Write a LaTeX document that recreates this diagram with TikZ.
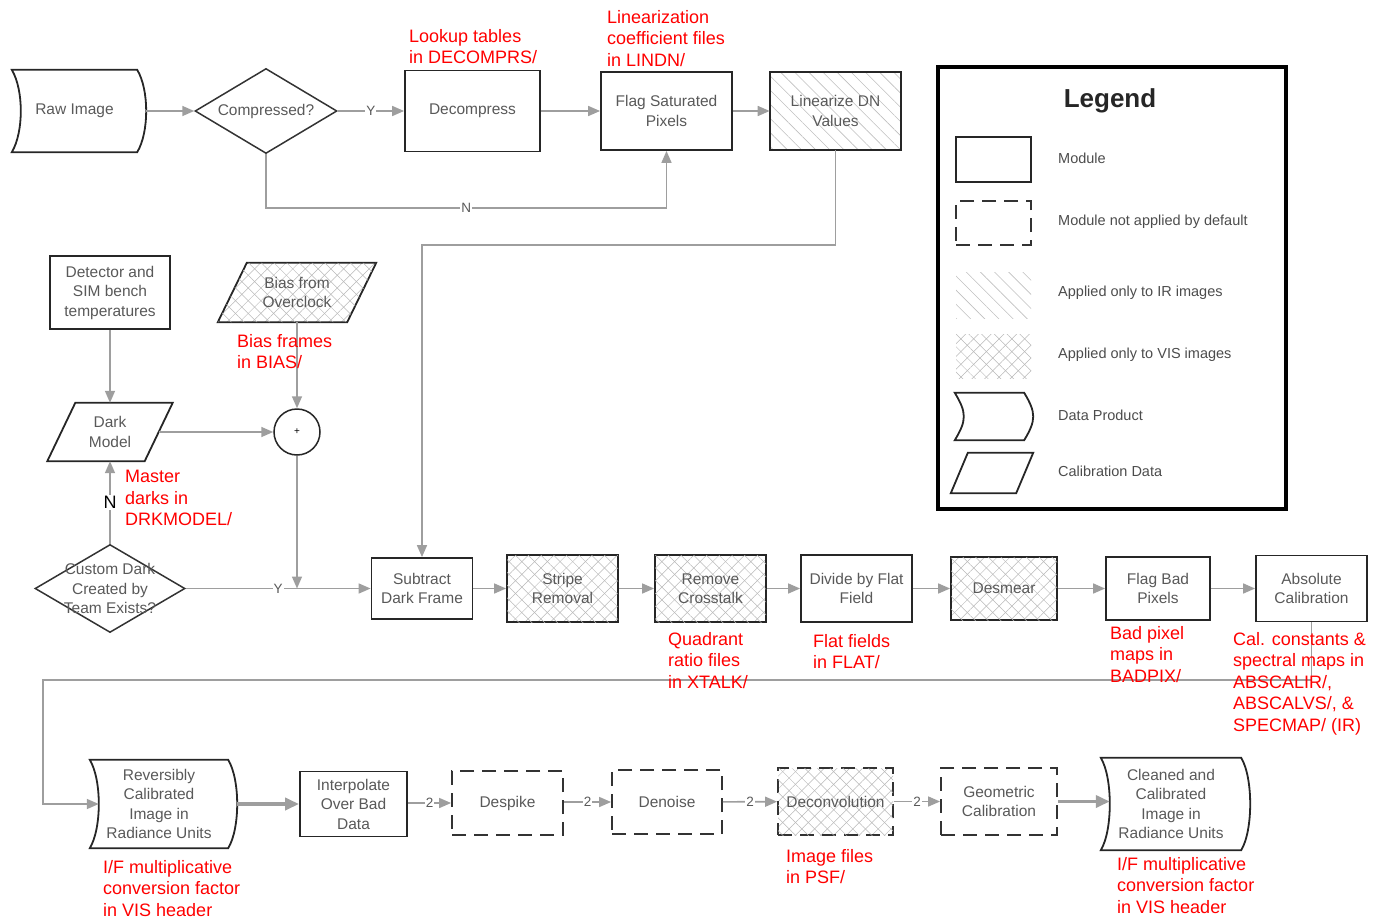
\documentclass[tikz,border=0pt]{standalone}
\usepackage{fontspec}
\setmainfont{Liberation Sans}
\usetikzlibrary{shapes.geometric,arrows.meta,patterns.meta,backgrounds,positioning}

\newcommand{\boxtextfont}{\fontsize{15.5}{19.5}\selectfont}
\newcommand{\notetextfont}{\fontsize{18}{21.5}\selectfont}
\newcommand{\legendtextfont}{\fontsize{14.5}{17}\selectfont}
\newcommand{\edgetextfont}{\fontsize{13.5}{15}\selectfont}

% outlines of data products and calibration data
\newcommand{\prodoutline}[1]{%
  \begin{pgfonlayer}{background}
  \draw[prodline] (#1.north west) .. controls +(12,20) and +(12,-20) .. (#1.south west)
    -- (#1.south east) .. controls +(12,-20) and +(12,20) .. (#1.north east) -- cycle;
  \end{pgfonlayer}}
\newcommand{\caloutline}[3][]{%
  \begin{pgfonlayer}{background}
  \draw[calline,#1] ([xshift=#2]#3.north west) -- ([xshift=#2]#3.north east)
    -- ([xshift=-#2]#3.south east) -- ([xshift=-#2]#3.south west) -- cycle;
  \end{pgfonlayer}}

\begin{document}
\begin{tikzpicture}[x=1pt,y=-1pt,
  module/.style={draw=black!85, line width=1.8pt, fill=white, text=black!65, font=\boxtextfont, align=center, inner sep=1pt},
  skipped/.style={module, draw=black!80, dash pattern=on 14pt off 8pt},
  irhatch/.style={pattern={Lines[angle=-45,distance=10pt,line width=.6pt]}, pattern color=black!25},
  vishatch/.style={pattern={Lines[angle=45,distance=9pt,line width=.5pt]}, pattern color=black!28,
    postaction={pattern={Lines[angle=-45,distance=9pt,line width=.5pt]}, pattern color=black!28}},
  prodtext/.style={text=black!65, font=\boxtextfont, align=center, inner sep=0pt},
  prodline/.style={draw=black!85, line width=1.8pt},
  calline/.style={draw=black!85, line width=1.8pt},
  decision/.style={diamond, draw=black!80, line width=1.5pt, text=black!65, font=\boxtextfont, align=center, inner sep=0pt, aspect=1.7},
  link/.style={draw=black!38, line width=1.6pt, -{Triangle[length=12pt,width=10pt]}},
  boldlink/.style={link, line width=3.5pt, -{Triangle[length=14pt,width=12pt]}},
  elab/.style={fill=white, inner sep=1pt, text=black!65, font=\edgetextfont},
  note/.style={text=red, font=\notetextfont, align=left, anchor=north west, inner sep=0pt},
  legtext/.style={text=black!70, font=\legendtextfont, anchor=west, inner sep=0pt}
]
\useasboundingbox (0,0) rectangle (1385,918);

% Top row
\node[prodtext, minimum width=125pt, minimum height=82pt] (raw) at (74.5,111) {Raw Image};
\prodoutline{raw}
\node[decision, minimum width=142pt, minimum height=85pt] (comp) at (266,111) {Compressed?};
\node[module, minimum width=135pt, minimum height=81pt] (decomp) at (472.5,111) {Decompress};
\node[module, minimum width=131pt, minimum height=78pt] (flagsat) at (666.5,111) {Flag Saturated\\Pixels};
\node[module, irhatch, minimum width=131pt, minimum height=78pt] (lindn) at (835.5,111) {Linearize DN\\Values};

% Dark and bias inputs
\node[module, minimum width=120pt, minimum height=73pt] (temps) at (110,292.5) {Detector and\\SIM bench\\temperatures};
\node[prodtext, minimum width=129pt, minimum height=59pt] (bias) at (297,292.5) {Bias from\\Overclock};
\caloutline[vishatch]{14.5pt}{bias}
\node[prodtext, minimum width=97pt, minimum height=58pt] (dark) at (110,432) {Dark\\Model};
\caloutline{14pt}{dark}
\node[circle, draw=black!85, line width=1.5pt, fill=white, minimum size=46pt, inner sep=0pt, font=\fontsize{10}{10}\selectfont] (sum) at (297,432) {+};
\node[decision, minimum width=150pt, minimum height=88pt,
  label={[prodtext]center:Custom Dark\\Created by\\Team Exists?}] (custom) at (110,588.5) {};

% Middle row
\node[module, minimum width=101pt, minimum height=61pt] (subtract) at (422,588.5) {Subtract\\Dark Frame};
\node[module, vishatch, minimum width=111pt, minimum height=67pt] (stripe) at (562.5,588.5) {Stripe\\Removal};
\node[module, vishatch, minimum width=111pt, minimum height=67pt] (xtalk) at (710.5,588.5) {Remove\\Crosstalk};
\node[module, minimum width=111pt, minimum height=67pt] (flat) at (856.5,588.5) {Divide by Flat\\Field};
\node[module, vishatch, minimum width=106pt, minimum height=63pt] (desmear) at (1004,588.5) {Desmear};
\node[module, minimum width=104pt, minimum height=63pt] (badpix) at (1158,588.5) {Flag Bad\\Pixels};
\node[module, minimum width=111pt, minimum height=66pt] (abscal) at (1311.5,588.5) {Absolute\\Calibration};

% Bottom row
\node[prodtext, minimum width=138pt, minimum height=88pt] (revcal) at (159,804) {Reversibly\\Calibrated\\Image in\\Radiance Units};
\prodoutline{revcal}
\node[module, minimum width=107pt, minimum height=65pt] (interp) at (353.5,804) {Interpolate\\Over Bad\\Data};
\node[skipped, minimum width=111pt, minimum height=64pt] (despike) at (507.5,803) {Despike};
\node[skipped, minimum width=110pt, minimum height=64pt] (denoise) at (667,802) {Denoise};
\node[skipped, vishatch, minimum width=115pt, minimum height=67pt] (deconv) at (835.5,801.5) {Deconvolution};
\node[skipped, minimum width=116pt, minimum height=67pt] (geo) at (999,801.5) {Geometric\\Calibration};
\node[prodtext, minimum width=140pt, minimum height=92pt] (cleaned) at (1171,804) {Cleaned and\\Calibrated\\Image in\\Radiance Units};
\prodoutline{cleaned}

% Turning points
\coordinate (nturn) at (666.5,208);
\coordinate (lturn) at (422,245);
\coordinate (wrapr) at (1311.5,680);
\coordinate (wrapl) at (43,680);

% Connectors
\draw[link] ([xshift=9pt]raw.east) -- (comp.west);
\draw[link] (comp.east) -- node[elab]{Y} (decomp.west);
\draw[link] (decomp) -- (flagsat);
\draw[link] (flagsat) -- (lindn);
\draw[link] (comp.south) |- node[elab, pos=.75]{N} (nturn) -- (flagsat.south);
\draw[link] (lindn.south) |- (lturn) -- (subtract.north);

\draw[link] (temps.south) -- (dark.north);
\draw[link] (dark.east) -- (sum.west);
\draw[link] (bias.south) -- (sum.north);
\draw[link] (custom.north) -- node[elab, text=black, font=\notetextfont]{N} (dark.south);
\draw[link] (custom.east) -- node[elab]{Y} (subtract.west);
\draw[link] (sum.south) -- (sum.south |- custom.east);

\draw[link] (subtract) -- (stripe);
\draw[link] (stripe) -- (xtalk);
\draw[link] (xtalk) -- (flat);
\draw[link] (flat) -- (desmear);
\draw[link] (desmear) -- (badpix);
\draw[link] (badpix) -- (abscal);
\draw[link] (abscal.south) -- (wrapr) -- (wrapl) |- ([xshift=9pt]revcal.west);

\draw[boldlink] ([xshift=9pt]revcal.east) -- (interp.west);
\draw[link] (interp.east |- despike.west) -- node[elab]{2} (despike.west);
\draw[link] (despike.east |- denoise.west) -- node[elab]{2} (denoise.west);
\draw[link] (denoise) -- node[elab]{2} (deconv);
\draw[link] (deconv) -- node[elab]{2} (geo);
\draw[boldlink] (geo.east) -- ([xshift=9pt]cleaned.west |- geo.east);

% Calibration file notes
\node[note] (ndecomp) at (409,29) {Lookup tables\\in DECOMPRS/};
\node[note] (nlindn) at (607,10) {Linearization\\coefficient files\\in LINDN/};
\node[note] (nbias) at (237,334) {Bias frames\\in BIAS/};
\node[note] (ndark) at (125,470) {Master\\darks in\\DRKMODEL/};
\node[note] (nxtalk) at (668,632) {Quadrant\\ratio files\\in XTALK/};
\node[note] (nflat) at (813,634) {Flat fields\\in FLAT/};
\node[note] (nbadpix) at (1110,626) {Bad pixel\\maps in\\BADPIX/};
\node[note] (nabscal) at (1233,632) {Cal. constants \&\\spectral maps in\\ABSCALIR/,\\ABSCALVS/, \&\\SPECMAP/ (IR)};
\node[note] (nrevcal) at (103,860) {I/F multiplicative\\conversion factor\\in VIS header};
\node[note] (npsf) at (786,849) {Image files\\in PSF/};
\node[note] (ncleaned) at (1117,857) {I/F multiplicative\\conversion factor\\in VIS header};

% Legend
\node[draw=black, line width=3.5pt, minimum width=348pt, minimum height=442pt, inner sep=0pt] (legend) at (1112,288) {};
\node[font=\fontsize{26}{30}\selectfont\bfseries, text=black!85] (legtitle) at (1110,101) {Legend};
\node[module, minimum width=75pt, minimum height=45pt] (lgmod) at (993.5,159.5) {};
\node[skipped, minimum width=75pt, minimum height=44pt] (lgskip) at (993.5,223) {};
\node[irhatch, minimum width=75pt, minimum height=46pt] (lgir) at (993.5,295) {};
\node[vishatch, minimum width=75pt, minimum height=44pt] (lgvis) at (993.5,356) {};
\node[minimum width=69pt, minimum height=47pt] (lgprod) at (989.5,416.5) {};
\prodoutline{lgprod}
\node[minimum width=65pt, minimum height=40pt] (lgcal) at (992,473) {};
\caloutline{8.5pt}{lgcal}
\node[legtext] (tmod) at (1058,158) {Module};
\node[legtext] (tskip) at (1058,222) {Module not applied by default};
\node[legtext] (tir) at (1058,293) {Applied only to IR images};
\node[legtext] (tvis) at (1058,355) {Applied only to VIS images};
\node[legtext] (tprod) at (1058,415) {Data Product};
\node[legtext] (tcal) at (1058,471) {Calibration Data};

\end{tikzpicture}
\end{document}
